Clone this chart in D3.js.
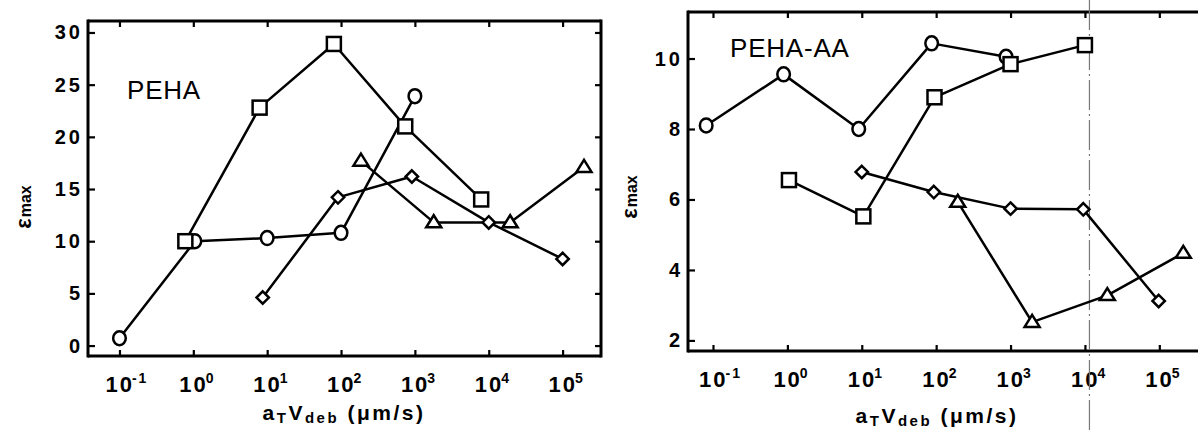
<!DOCTYPE html>
<html>
<head>
<meta charset="utf-8">
<script src="https://cdn.jsdelivr.net/npm/d3@7"></script>
<style>
  body { margin: 0; background: #fff; }
  svg { display: block; font-family: "Liberation Sans", Arial, sans-serif; }
</style>
</head>
<body>
<svg id="chart" width="1198" height="432"></svg>
<script>
// ---- data: PEHA (left panel) ----
const pehaCircleX = [0.1, 1.05, 10, 100, 1000];
const pehaCircleY = [0.7, 10.0, 10.3, 10.8, 23.9];
const pehaSquareX = [0.78, 7.9, 80, 740, 7900];
const pehaSquareY = [10.0, 22.8, 28.9, 21.0, 14.0];
const pehaDiamondX = [8.7, 91, 910, 10000, 100000];
const pehaDiamondY = [4.6, 14.2, 16.2, 11.8, 8.3];
const pehaTriangleX = [186, 1800, 19500, 195000];
const pehaTriangleY = [17.7, 11.8, 11.8, 17.1];

// ---- data: PEHA-AA (right panel) ----
const aaCircleX = [0.081, 0.89, 9.1, 87, 870];
const aaCircleY = [8.1, 9.55, 8.0, 10.43, 10.05];
const aaSquareX = [1.05, 10.5, 95, 1000, 10000];
const aaSquareY = [6.55, 5.52, 8.9, 9.84, 10.38];
const aaDiamondX = [10, 93, 1000, 9500, 98000];
const aaDiamondY = [6.78, 6.21, 5.74, 5.72, 3.12];
const aaTriangleX = [195, 1950, 20000, 210000];
const aaTriangleY = [5.93, 2.52, 3.28, 4.48];
const aaRefLineX = 11500;

const decadeTicks = [-1, 0, 1, 2, 3, 4, 5];
const pehaYTicks = [0, 5, 10, 15, 20, 25, 30];
const aaYTicks = [2, 4, 6, 8, 10];

const svg = d3.select("#chart");

function drawMarker(g, shape, x, y) {
    const sw = 2.5;
    if (shape === "circle") {
        g.append("ellipse").attr("cx", x).attr("cy", y).attr("rx", 6.3).attr("ry", 7)
            .attr("fill", "#fff").attr("stroke", "#000").attr("stroke-width", sw);
    } else if (shape === "square") {
        g.append("rect").attr("x", x - 7).attr("y", y - 7).attr("width", 14).attr("height", 14)
            .attr("fill", "#fff").attr("stroke", "#000").attr("stroke-width", sw);
    } else if (shape === "diamond") {
        const r = 6.2;
        g.append("path").attr("d", `M${x},${y - r}L${x + r},${y}L${x},${y + r}L${x - r},${y}Z`)
            .attr("fill", "#fff").attr("stroke", "#000").attr("stroke-width", sw);
    } else {
        const h = 12, w = 7.5;
        g.append("path").attr("d", `M${x},${y - h * 0.6}L${x + w},${y + h * 0.4}L${x - w},${y + h * 0.4}Z`)
            .attr("fill", "#fff").attr("stroke", "#000").attr("stroke-width", sw);
    }
}

function drawPanel(p) {
    const g = svg.append("g");
    const x = d3.scaleLog().domain(p.xDomain).range(p.xRange);
    const y = d3.scaleLinear().domain(p.yDomain).range(p.yRange);
    const [x0, x1] = p.xRange;
    const [y0, y1] = p.yRange; // y0 bottom, y1 top

    // frame
    g.append("line").attr("x1", x0).attr("x2", x0).attr("y1", y1 - 1.5).attr("y2", y0 + 1.5);
    g.append("line").attr("x1", x0).attr("x2", x1).attr("y1", y0).attr("y2", y0);
    g.append("line").attr("x1", x0).attr("x2", x1).attr("y1", y1).attr("y2", y1);
    if (p.rightBorder) g.append("line").attr("x1", x1).attr("x2", x1).attr("y1", y1 - 1.5).attr("y2", y0 + 1.5);
    g.selectAll("line").attr("stroke", "#000").attr("stroke-width", 3);

    const tickVals = decadeTicks.map(d => Math.pow(10, d));

    // bottom/top ticks via axes (inward)
    g.append("g").attr("transform", `translate(0,${y0})`)
        .call(d3.axisBottom(x).tickValues(tickVals).tickSize(-6).tickFormat(() => ""));
    g.append("g").attr("transform", `translate(0,${y1})`)
        .call(d3.axisTop(x).tickValues(tickVals).tickSize(-6).tickFormat(() => ""));
    g.append("g").attr("transform", `translate(${x0},0)`)
        .call(d3.axisLeft(y).tickValues(p.yTicks).tickSize(-7).tickFormat(() => ""));
    if (p.rightBorder) {
        g.append("g").attr("transform", `translate(${x1},0)`)
            .call(d3.axisRight(y).tickValues(p.yTicks).tickSize(-6).tickFormat(() => ""));
    }
    g.selectAll(".domain").remove();
    g.selectAll(".tick line").attr("stroke", "#000").attr("stroke-width", 2.2);

    // x tick labels 10^n
    decadeTicks.forEach(d => {
        const t = g.append("text").attr("x", x(Math.pow(10, d)) - 14).attr("y", y0 + 36)
            .attr("font-size", 22).attr("font-weight", "bold").attr("letter-spacing", 2);
        t.append("tspan").text("10");
        t.append("tspan").attr("dy", -9).attr("font-size", 14).attr("dx", -2).text(d < 0 ? "-" + (-d) : d);
    });

    // y tick labels
    p.yTicks.forEach(v => {
        g.append("text").attr("x", x0 - 5).attr("y", y(v) + 7)
            .attr("text-anchor", "end").attr("font-size", 20).attr("font-weight", "bold")
            .attr("letter-spacing", 3).text(v);
    });

    // x title
    const xt = g.append("text").attr("x", p.xTitleX).attr("y", p.xTitleY)
        .attr("text-anchor", "middle").attr("font-size", 21).attr("font-weight", "bold").attr("letter-spacing", 2.5);
    xt.append("tspan").text("a");
    xt.append("tspan").attr("font-size", 15).attr("dy", 3).text("T");
    xt.append("tspan").attr("dy", -3).text("V");
    xt.append("tspan").attr("font-size", 15).attr("dy", 3).text("deb");
    xt.append("tspan").attr("dy", -3).text(" (μm/s)");

    // y title
    const yt = g.append("text").attr("transform", `translate(${p.yTitleX},${p.yTitleY}) rotate(-90)`)
        .attr("text-anchor", "middle").attr("font-size", 22).attr("font-weight", "bold");
    yt.append("tspan").text("ε");
    yt.append("tspan").attr("font-size", 16).attr("dx", 1).text("max");

    // panel label
    g.append("text").attr("x", p.labelX).attr("y", p.labelY).attr("font-size", 26)
        .attr("letter-spacing", 0.8).text(p.label);

    // reference line
    if (p.refLine) {
        g.append("line").attr("x1", x(p.refLine)).attr("x2", x(p.refLine)).attr("y1", 0).attr("y2", 432)
            .attr("stroke", "#777").attr("stroke-width", 1.2).attr("stroke-dasharray", "30,4,2,4");
    }

    // series
    const line = d3.line().x(d => x(d[0])).y(d => y(d[1]));
    p.series.forEach(s => {
        const pts = s.xs.map((v, i) => [v, s.ys[i]]);
        g.append("path").attr("d", line(pts)).attr("fill", "none")
            .attr("stroke", "#000").attr("stroke-width", 2.5).attr("stroke-linejoin", "round");
    });
    p.series.forEach(s => {
        s.xs.forEach((v, i) => drawMarker(g, s.shape, x(v), y(s.ys[i])));
    });
}

drawPanel({
    xDomain: [Math.pow(10, -1.426), Math.pow(10, 5.52)], xRange: [88, 601],
    yDomain: [-1, 31.1], yRange: [356, 21],
    yTicks: pehaYTicks, rightBorder: true,
    label: "PEHA", labelX: 127, labelY: 99,
    xTitleX: 344, xTitleY: 420, yTitleX: 31, yTitleY: 207,
    series: [
        { shape: "circle", xs: pehaCircleX, ys: pehaCircleY },
        { shape: "square", xs: pehaSquareX, ys: pehaSquareY },
        { shape: "diamond", xs: pehaDiamondX, ys: pehaDiamondY },
        { shape: "triangle", xs: pehaTriangleX, ys: pehaTriangleY }
    ]
});

drawPanel({
    xDomain: [Math.pow(10, -1.336), Math.pow(10, 5.52)], xRange: [688, 1198],
    yDomain: [1.7, 11.32], yRange: [351, 12],
    yTicks: aaYTicks, rightBorder: false, refLine: aaRefLineX,
    label: "PEHA-AA", labelX: 730, labelY: 57,
    xTitleX: 937, xTitleY: 423, yTitleX: 637, yTitleY: 197,
    series: [
        { shape: "circle", xs: aaCircleX, ys: aaCircleY },
        { shape: "square", xs: aaSquareX, ys: aaSquareY },
        { shape: "diamond", xs: aaDiamondX, ys: aaDiamondY },
        { shape: "triangle", xs: aaTriangleX, ys: aaTriangleY }
    ]
});
</script>
</body>
</html>
